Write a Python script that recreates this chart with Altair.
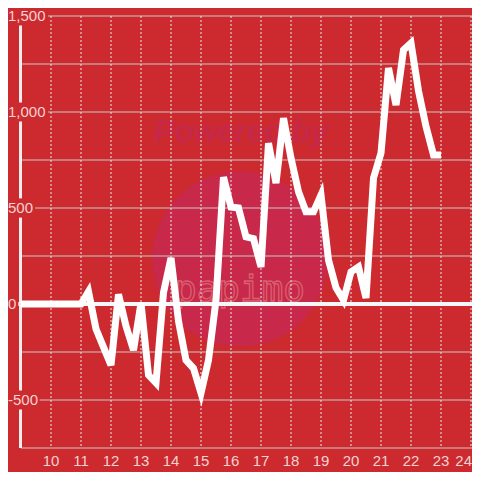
import altair as alt
import pandas as pd

# ---- data ----
hours = [9.0, 9.25, 9.5, 9.75, 10.0, 10.25, 10.5, 10.75, 11.0, 11.25, 11.5, 11.75,
         12.0, 12.25, 12.5, 12.75, 13.0, 13.25, 13.5, 13.75, 14.0, 14.25, 14.5, 14.75,
         15.0, 15.25, 15.5, 15.75, 16.0, 16.25, 16.5, 16.75, 17.0, 17.25, 17.5, 17.75,
         18.0, 18.25, 18.5, 18.75, 19.0, 19.25, 19.5, 19.75, 20.0, 20.25, 20.5, 20.75,
         21.0, 21.25, 21.5, 21.75, 22.0, 22.25, 22.5, 22.75, 23.0]
values = [0, 0, 0, 0, 0, 0, 0, 0, 0, 65, -130, -225,
          -318, 50, -115, -240, 5, -370, -411, 60, 240, -90, -292, -335,
          -464, -292, 20, 661, 505, 500, 350, 340, 193, 838, 630, 968,
          760, 585, 480, 480, 568, 229, 85, 20, 167, 193, 31, 656,
          786, 1229, 1036, 1323, 1359, 1110, 925, 776, 776]

y_grid_values = [-750, -500, -250, 0, 250, 500, 750, 1000, 1250, 1500]
y_label_values = [1500, 1000, 500, 0, -500]
y_label_texts = ["1,500", "1,000", "500", "0", "-500"]
x_tick_values = [10, 11, 12, 13, 14, 15, 16, 17, 18, 19, 20, 21, 22, 23, 24]

# ---- styling ----
W, H = 451, 432
BG = "#cc2a2e"
LABEL = "#f3d2d2"
FONT = "Liberation Sans"

xs = alt.Scale(domain=[9, 9 + W / 30], nice=False, zero=False)
ys = alt.Scale(domain=[-750, 1500], nice=False, zero=False)

one = pd.DataFrame({"a": [0]})
line_df = pd.DataFrame({"hour": hours, "value": values})
ygrid_df = pd.DataFrame({"v": y_grid_values})
ylab_df = pd.DataFrame({"v": y_label_values, "label": y_label_texts})
xt_df = pd.DataFrame({"v": x_tick_values})
xt_inner = xt_df[xt_df["v"] < max(x_tick_values)]
xt_last = xt_df[xt_df["v"] == max(x_tick_values)]

circle = alt.Chart(one).mark_circle(color="#c8284a", opacity=1, size=30790).encode(
    x=alt.value(219), y=alt.value(243))

powered = alt.Chart(one).mark_text(
    text="Powered by", font=FONT, fontSize=31, fontWeight="bold", fontStyle="italic",
    color="#c6284a", align="center", baseline="middle").encode(
    x=alt.value(220), y=alt.value(117))

papimo = alt.Chart(one).mark_text(
    text="papimo", font="DejaVu Sans Mono", fontSize=36, fill="#c8284a",
    stroke="#d9606f", strokeWidth=1.3, align="center", baseline="middle").encode(
    x=alt.value(219), y=alt.value(274))

hgrid = alt.Chart(ygrid_df).mark_rule(color="#c8c8c8", strokeWidth=1).encode(
    y=alt.Y("v:Q", scale=ys, axis=None), x=alt.value(0), x2=alt.value(W + 8))

vgrid = alt.Chart(xt_df).mark_rule(color="#e8e8e8", strokeWidth=1, strokeDash=[2, 2]).encode(
    x=alt.X("v:Q", scale=xs, axis=None), y=alt.value(0), y2=alt.value(H))

zero = alt.Chart(pd.DataFrame({"v": [0]})).mark_rule(color="#f7f7f7", strokeWidth=4).encode(
    y=alt.Y("v:Q", scale=ys, axis=None), x=alt.value(-4), x2=alt.value(W + 8))

yaxis = alt.Chart(one).mark_rule(color="#eeeeee", strokeWidth=3).encode(
    x=alt.value(-0.5), y=alt.value(0), y2=alt.value(H))

backdrop = alt.Chart(ylab_df).transform_calculate(
    lo="datum.v - 50", hi="datum.v + 50", x0="-14",
    x1="-11 + length(replace(datum.label, regexp('[,-]', 'g'), '')) * 8.34"
       " + (length(datum.label) - length(replace(datum.label, regexp('[,-]', 'g'), ''))) * 4.6"
).mark_rect(color=BG).encode(
    x=alt.X("x0:Q", scale=None, axis=None), x2="x1:Q",
    y=alt.Y("lo:Q", scale=ys, axis=None), y2="hi:Q")

ylabels = alt.Chart(ylab_df).mark_text(
    align="left", baseline="middle", font=FONT, fontSize=15, color=LABEL).encode(
    x=alt.value(-13), y=alt.Y("v:Q", scale=ys, axis=None), text="label:N")

xlabels = alt.Chart(xt_inner).mark_text(
    align="center", baseline="middle", font=FONT, fontSize=15, color=LABEL).encode(
    x=alt.X("v:Q", scale=xs, axis=None), y=alt.value(H + 13), text=alt.Text("v:Q", format="d"))

xlabel_last = alt.Chart(xt_last).mark_text(
    align="right", baseline="middle", font=FONT, fontSize=15, color=LABEL, dx=1).encode(
    x=alt.X("v:Q", scale=xs, axis=None), y=alt.value(H + 13), text=alt.Text("v:Q", format="d"))

line = alt.Chart(line_df).mark_line(color="#ffffff", strokeWidth=7).encode(
    x=alt.X("hour:Q", scale=xs, axis=None), y=alt.Y("value:Q", scale=ys, axis=None))

chart = alt.layer(
    circle, powered, papimo, hgrid, vgrid, zero, yaxis, backdrop, ylabels,
    xlabels, xlabel_last, line
).properties(
    width=W, height=H,
    autosize=alt.AutoSizeParams(type="none"),
    padding={"left": 13, "top": 8, "right": 0, "bottom": 24},
).configure(background=BG).configure_view(stroke=None)

chart.save("out.html", embed_options={"renderer": "svg", "actions": False})
